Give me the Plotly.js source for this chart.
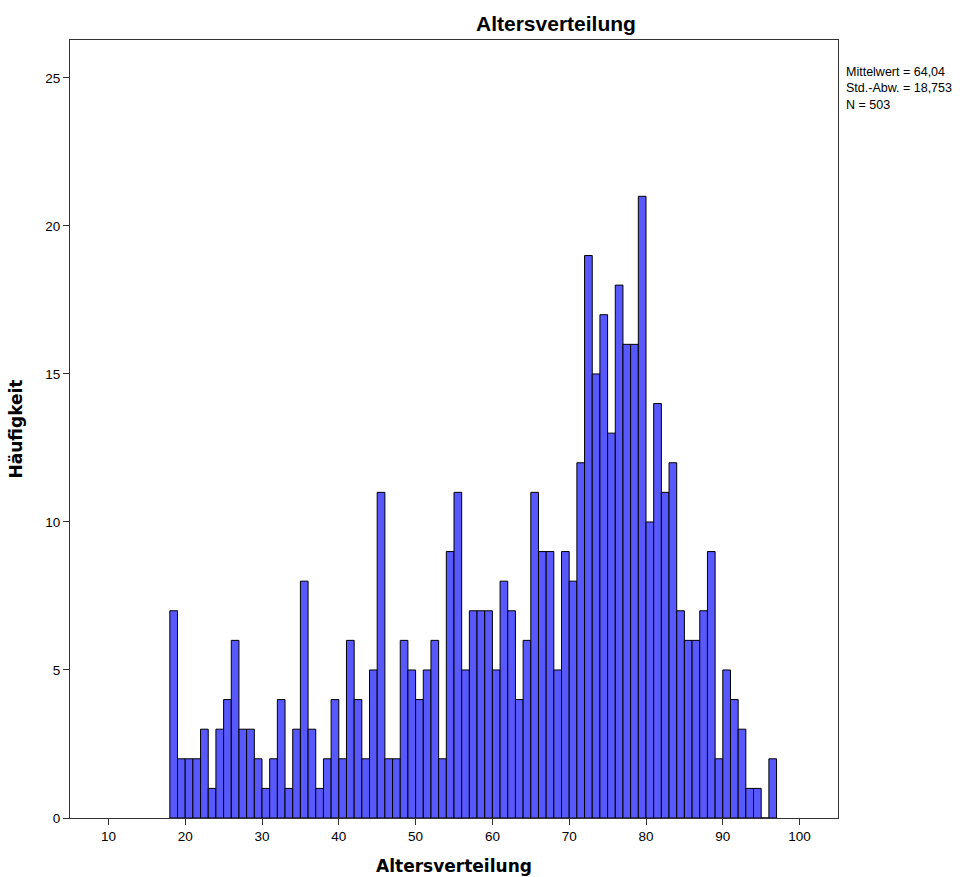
<!DOCTYPE html>
<html>
<head>
<meta charset="utf-8">
<script src="https://cdn.plot.ly/plotly-3.0.1.min.js"></script>
<style>html,body{margin:0;padding:0;background:#fff;}#chart{width:980px;height:877px;}</style>
</head>
<body>
<div id="chart"></div>
<script>
// Age bins (lower edge of each 1-year bin)
const ages = [18,19,20,21,22,23,24,25,26,27,28,29,
  30,31,32,33,34,35,36,37,38,39,
  40,41,42,43,44,45,46,47,48,49,
  50,51,52,53,54,55,56,57,58,59,
  60,61,62,63,64,65,66,67,68,69,
  70,71,72,73,74,75,76,77,78,79,
  80,81,82,83,84,85,86,87,88,89,
  90,91,92,93,94,95,96];
const counts = [7,2,2,2,3,1,3,4,6,3,3,2,
  1,2,4,1,3,8,3,1,2,4,
  2,6,4,2,5,11,2,2,6,5,
  4,5,6,2,9,11,5,7,7,7,
  5,8,7,4,6,11,9,9,5,9,
  8,12,19,15,17,13,18,16,16,21,
  10,14,11,12,7,6,6,7,9,2,
  5,4,3,1,1,0,2];
const xTicks = [10,20,30,40,50,60,70,80,90,100];
const yTicks = [0,5,10,15,20,25];
const chartTitle = "Altersverteilung";
const xTitle = "Altersverteilung";
const yTitle = "Häufigkeit";
const statsLines = ["Mittelwert = 64,04", "Std.-Abw. = 18,753", "N = 503"];

const trace = {
  type: "bar",
  x: ages.map(a => a + 0.5),
  y: counts,
  width: ages.map(() => 1),
  marker: {color: "#5858ff", line: {color: "#000000", width: 1}},
  hoverinfo: "x+y"
};

const layout = {
  width: 980, height: 877,
  margin: {l: 70, r: 142, t: 40, b: 59},
  paper_bgcolor: "#ffffff",
  plot_bgcolor: "#ffffff",
  showlegend: false,
  bargap: 0,
  font: {family: "Liberation Sans, Arial, sans-serif", size: 13, color: "#000"},
  xaxis: {
    range: [5, 105],
    tickmode: "array", tickvals: xTicks, ticktext: xTicks.map(String),
    ticks: "outside", ticklen: 6, tickwidth: 1, tickcolor: "#333",
    showgrid: false, zeroline: false,
    showline: true, linecolor: "#333", linewidth: 1, mirror: true,
    tickfont: {family: "Liberation Sans, Arial, sans-serif", size: 13.5, color: "#000"},
    title: {text: xTitle, standoff: 16,
      font: {family: "DejaVu Sans, sans-serif", size: 17, color: "#000", weight: "bold"}}
  },
  yaxis: {
    range: [0, 26.28],
    tickmode: "array", tickvals: yTicks, ticktext: yTicks.map(String),
    ticks: "outside", ticklen: 6, tickwidth: 1, tickcolor: "#333",
    showgrid: false, zeroline: false,
    showline: true, linecolor: "#333", linewidth: 1, mirror: true,
    tickfont: {family: "Liberation Sans, Arial, sans-serif", size: 13.5, color: "#000"},
    title: {text: yTitle, standoff: 18,
      font: {family: "DejaVu Sans, sans-serif", size: 17, color: "#000", weight: "bold"}}
  },
  annotations: [
    {xref: "paper", yref: "paper", x: 0.633, y: 1, yshift: 3, xanchor: "center", yanchor: "bottom",
     text: "<b>" + chartTitle + "</b>", showarrow: false,
     font: {family: "Liberation Sans, Arial, sans-serif", size: 21, color: "#000"}},
    {xref: "paper", yref: "paper", x: 1, xshift: 7, y: 1, yshift: -24, xanchor: "left", yanchor: "top", align: "left",
     text: statsLines.join("<br>"), showarrow: false, borderpad: 0,
     font: {family: "Liberation Sans, Arial, sans-serif", size: 12.5, color: "#000"}}
  ]
};

Plotly.newPlot("chart", [trace], layout, {displayModeBar: false, staticPlot: true});
</script>
</body>
</html>
